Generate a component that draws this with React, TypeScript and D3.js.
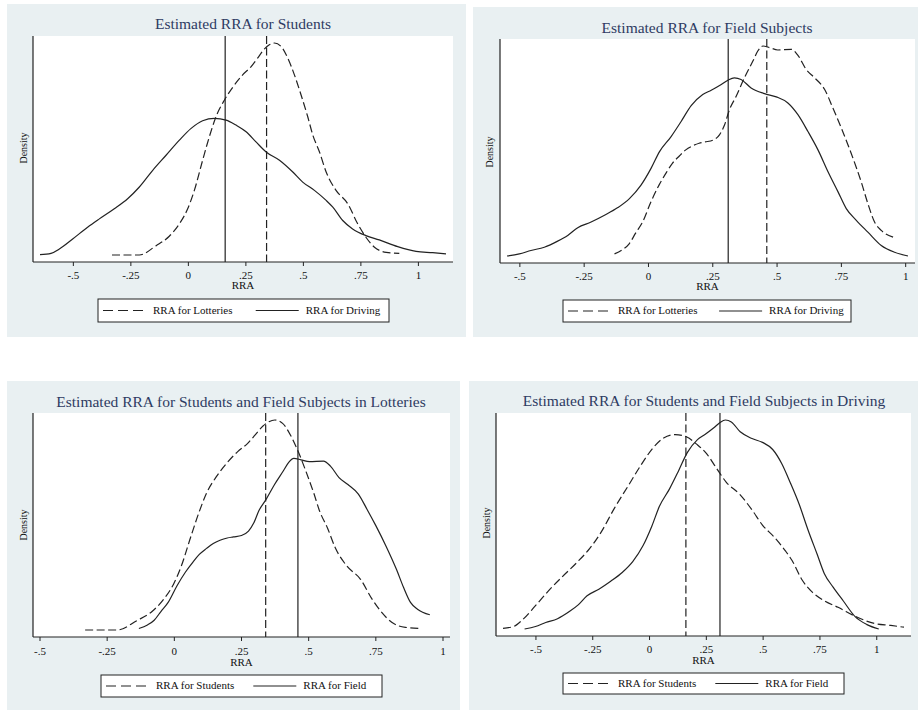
import React from 'react';
import * as d3 from 'd3';

// kernel density curves, [RRA, density]
const studentsLotteries: [number, number][] = [
  [-0.332, 0.007], [-0.213, 0.007], [-0.140, 0.104], [-0.083, 0.201], [-0.039, 0.330],
  [-0.003, 0.486], [0.026, 0.676], [0.062, 0.988], [0.091, 1.230], [0.120, 1.438],
  [0.157, 1.612], [0.193, 1.744], [0.236, 1.872], [0.273, 1.958], [0.301, 2.046],
  [0.330, 2.139], [0.352, 2.184], [0.374, 2.202], [0.403, 2.167], [0.432, 2.046],
  [0.461, 1.872], [0.490, 1.664], [0.519, 1.438], [0.541, 1.248], [0.570, 1.074],
  [0.599, 0.866], [0.642, 0.676], [0.693, 0.537], [0.736, 0.330], [0.772, 0.191],
  [0.809, 0.087], [0.860, 0.035], [0.917, 0.024],
];

const studentsDriving: [number, number][] = [
  [-0.645, 0.010], [-0.597, 0.024], [-0.561, 0.069], [-0.503, 0.173], [-0.438, 0.295],
  [-0.387, 0.381], [-0.322, 0.486], [-0.264, 0.590], [-0.213, 0.711], [-0.155, 0.884],
  [-0.097, 1.040], [-0.039, 1.196], [0.012, 1.318], [0.062, 1.397], [0.113, 1.422],
  [0.164, 1.404], [0.207, 1.352], [0.251, 1.283], [0.294, 1.178], [0.338, 1.074],
  [0.396, 0.988], [0.454, 0.866], [0.497, 0.762], [0.548, 0.676], [0.599, 0.572],
  [0.628, 0.502], [0.671, 0.364], [0.714, 0.277], [0.772, 0.208], [0.830, 0.163],
  [0.910, 0.094], [0.990, 0.045], [1.062, 0.031], [1.120, 0.018],
];

const fieldLotteries: [number, number][] = [
  [-0.132, 0.023], [-0.100, 0.060], [-0.075, 0.109], [-0.050, 0.200], [-0.023, 0.295],
  [0.010, 0.470], [0.041, 0.611], [0.070, 0.720], [0.093, 0.797], [0.120, 0.860],
  [0.145, 0.912], [0.170, 0.945], [0.197, 0.969], [0.220, 0.980], [0.250, 0.995],
  [0.276, 1.041], [0.296, 1.127], [0.315, 1.256], [0.341, 1.370], [0.373, 1.528],
  [0.406, 1.671], [0.425, 1.757], [0.445, 1.800], [0.471, 1.786], [0.503, 1.766],
  [0.555, 1.772], [0.581, 1.720], [0.613, 1.600], [0.646, 1.528], [0.685, 1.428],
  [0.717, 1.270], [0.750, 1.098], [0.788, 0.883], [0.827, 0.639], [0.853, 0.453],
  [0.879, 0.295], [0.905, 0.224], [0.951, 0.166],
];

const fieldDriving: [number, number][] = [
  [-0.550, 0.005], [-0.502, 0.023], [-0.457, 0.052], [-0.405, 0.080], [-0.353, 0.132],
  [-0.314, 0.181], [-0.275, 0.247], [-0.223, 0.295], [-0.171, 0.353], [-0.119, 0.419],
  [-0.074, 0.496], [-0.029, 0.611], [0.010, 0.754], [0.043, 0.897], [0.088, 1.026],
  [0.127, 1.155], [0.166, 1.290], [0.211, 1.385], [0.244, 1.422], [0.283, 1.471],
  [0.309, 1.508], [0.334, 1.528], [0.360, 1.514], [0.399, 1.442], [0.451, 1.393],
  [0.497, 1.365], [0.542, 1.313], [0.581, 1.213], [0.620, 1.069], [0.659, 0.912],
  [0.698, 0.725], [0.737, 0.553], [0.769, 0.410], [0.808, 0.310], [0.853, 0.209],
  [0.905, 0.095], [0.957, 0.037], [1.009, 0.005],
];

// means, drawn as vertical lines
const meanStudentsLotteries = 0.34;
const meanStudentsDriving = 0.16;
const meanFieldLotteries = 0.46;
const meanFieldDriving = 0.31;

const xTicks = [-0.5, -0.25, 0, 0.25, 0.5, 0.75, 1];
const tickLabel = (v: number) => (v === 0 ? '0' : v === 1 ? '1' : String(v).replace('0.', '.'));

const BG = '#e9f0f2';
const TITLE = '#2e3b62';
const FONT = '"Liberation Serif", "DejaVu Serif", serif';
const DASH = '8,3.5';

type Box = { x0: number; x1: number; y0: number; y1: number };

interface PanelProps {
  title: string;
  bg: Box;
  plot: Box;
  titleX: number;
  titleY: number;
  tickY: number;
  rraY: number;
  densityX: number;
  densityY: number;
  legend: Box;
  dashed: [number, number][];
  solid: [number, number][];
  dashedMean: number;
  solidMean: number;
  dashedName: string;
  solidName: string;
}

function Panel(p: PanelProps) {
  const pad = 7;
  const xs = [...p.dashed, ...p.solid].map(d => d[0]);
  const ys = [...p.dashed, ...p.solid].map(d => d[1]);
  const x = d3.scaleLinear()
    .domain(d3.extent([...xs, ...xTicks]) as [number, number])
    .range([p.plot.x0 + pad, p.plot.x1 - pad]);
  const y = d3.scaleLinear()
    .domain(d3.extent(ys) as [number, number])
    .range([p.plot.y1 - pad, p.plot.y0 + pad]);
  const line = d3.line<[number, number]>()
    .x(d => x(d[0]))
    .y(d => y(d[1]))
    .curve(d3.curveMonotoneX);

  const lg = p.legend;
  const lgMid = (lg.y0 + lg.y1) / 2;
  const lgW = lg.x1 - lg.x0;

  return (
    <g>
      <rect x={p.bg.x0} y={p.bg.y0} width={p.bg.x1 - p.bg.x0} height={p.bg.y1 - p.bg.y0} fill={BG} />
      <rect x={p.plot.x0} y={p.plot.y0} width={p.plot.x1 - p.plot.x0} height={p.plot.y1 - p.plot.y0} fill="#fff" />
      <text x={p.titleX} y={p.titleY} textAnchor="middle" dominantBaseline="middle"
        fontFamily={FONT} fontSize={15.5} fill={TITLE}>{p.title}</text>

      {/* means */}
      <line x1={x(p.solidMean)} x2={x(p.solidMean)} y1={p.plot.y0} y2={p.plot.y1} stroke="#222" strokeWidth={1.2} />
      <line x1={x(p.dashedMean)} x2={x(p.dashedMean)} y1={p.plot.y0} y2={p.plot.y1} stroke="#222" strokeWidth={1.2}
        strokeDasharray={DASH} />

      <path d={line(p.dashed) || ''} fill="none" stroke="#222" strokeWidth={1.2} strokeDasharray={DASH} />
      <path d={line(p.solid) || ''} fill="none" stroke="#222" strokeWidth={1.2} />

      {/* axes */}
      <line x1={p.plot.x0} x2={p.plot.x0} y1={p.plot.y0} y2={p.plot.y1} stroke="#222" strokeWidth={1.2} />
      <line x1={p.plot.x0} x2={p.plot.x1} y1={p.plot.y1} y2={p.plot.y1} stroke="#222" strokeWidth={1.2} />
      {xTicks.map(t => (
        <g key={t}>
          <line x1={x(t)} x2={x(t)} y1={p.plot.y1} y2={p.plot.y1 + 4} stroke="#222" strokeWidth={1} />
          <text x={x(t)} y={p.tickY} textAnchor="middle" dominantBaseline="middle"
            fontFamily={FONT} fontSize={11} fill="#111">{tickLabel(t)}</text>
        </g>
      ))}
      <text x={(p.plot.x0 + p.plot.x1) / 2} y={p.rraY} textAnchor="middle" dominantBaseline="middle"
        fontFamily={FONT} fontSize={11} fill="#111">RRA</text>
      <text transform={`translate(${p.densityX},${p.densityY}) rotate(-90)`} textAnchor="middle"
        dominantBaseline="middle" fontFamily={FONT} fontSize={10} fill="#111">Density</text>

      {/* legend */}
      <rect x={lg.x0} y={lg.y0} width={lgW} height={lg.y1 - lg.y0} fill="#fff" stroke="#222" strokeWidth={1} />
      <line x1={lg.x0 + 5} x2={lg.x0 + 50} y1={lgMid} y2={lgMid} stroke="#222" strokeWidth={1.2} strokeDasharray="10,5" />
      <text x={lg.x0 + 55} y={lgMid + 0.5} dominantBaseline="middle" fontFamily={FONT} fontSize={11} fill="#111">{p.dashedName}</text>
      <line x1={lg.x0 + lgW * 0.542} x2={lg.x0 + lgW * 0.542 + 43} y1={lgMid} y2={lgMid} stroke="#222" strokeWidth={1.2} />
      <text x={lg.x0 + lgW * 0.542 + 50} y={lgMid + 0.5} dominantBaseline="middle" fontFamily={FONT} fontSize={11} fill="#111">{p.solidName}</text>
    </g>
  );
}

export default function App() {
  return (
    <svg width={918} height={711} style={{ position: 'absolute', left: 0, top: 0, background: '#fff' }}>
      <Panel title="Estimated RRA for Students"
        bg={{ x0: 7, x1: 466, y0: 4, y1: 337 }} plot={{ x0: 33, x1: 453, y0: 36, y1: 262 }}
        titleX={243} titleY={25} tickY={276} rraY={286.5} densityX={25} densityY={148}
        legend={{ x0: 98, x1: 389, y0: 299, y1: 322 }}
        dashed={studentsLotteries} solid={studentsDriving}
        dashedMean={meanStudentsLotteries} solidMean={meanStudentsDriving}
        dashedName="RRA for Lotteries" solidName="RRA for Driving" />
      <Panel title="Estimated RRA for Field Subjects"
        bg={{ x0: 473, x1: 918, y0: 7, y1: 337 }} plot={{ x0: 500, x1: 915, y0: 39, y1: 263 }}
        titleX={707} titleY={29} tickY={277} rraY={287.5} densityX={491} densityY={152}
        legend={{ x0: 563, x1: 851, y0: 300, y1: 322 }}
        dashed={fieldLotteries} solid={fieldDriving}
        dashedMean={meanFieldLotteries} solidMean={meanFieldDriving}
        dashedName="RRA for Lotteries" solidName="RRA for Driving" />
      <Panel title="Estimated RRA for Students and Field Subjects in Lotteries"
        bg={{ x0: 7, x1: 460, y0: 381, y1: 710 }} plot={{ x0: 33, x1: 450, y0: 413, y1: 637 }}
        titleX={241} titleY={403} tickY={652} rraY={663} densityX={25} densityY={525}
        legend={{ x0: 101, x1: 382, y0: 675, y1: 697 }}
        dashed={studentsLotteries} solid={fieldLotteries}
        dashedMean={meanStudentsLotteries} solidMean={meanFieldLotteries}
        dashedName="RRA for Students" solidName="RRA for Field" />
      <Panel title="Estimated RRA for Students and Field Subjects in Driving"
        bg={{ x0: 469, x1: 918, y0: 381, y1: 710 }} plot={{ x0: 496, x1: 911, y0: 413, y1: 636 }}
        titleX={704} titleY={402} tickY={650} rraY={661} densityX={488} densityY={523}
        legend={{ x0: 563, x1: 844, y0: 673, y1: 694 }}
        dashed={studentsDriving} solid={fieldDriving}
        dashedMean={meanStudentsDriving} solidMean={meanFieldDriving}
        dashedName="RRA for Students" solidName="RRA for Field" />
    </svg>
  );
}
